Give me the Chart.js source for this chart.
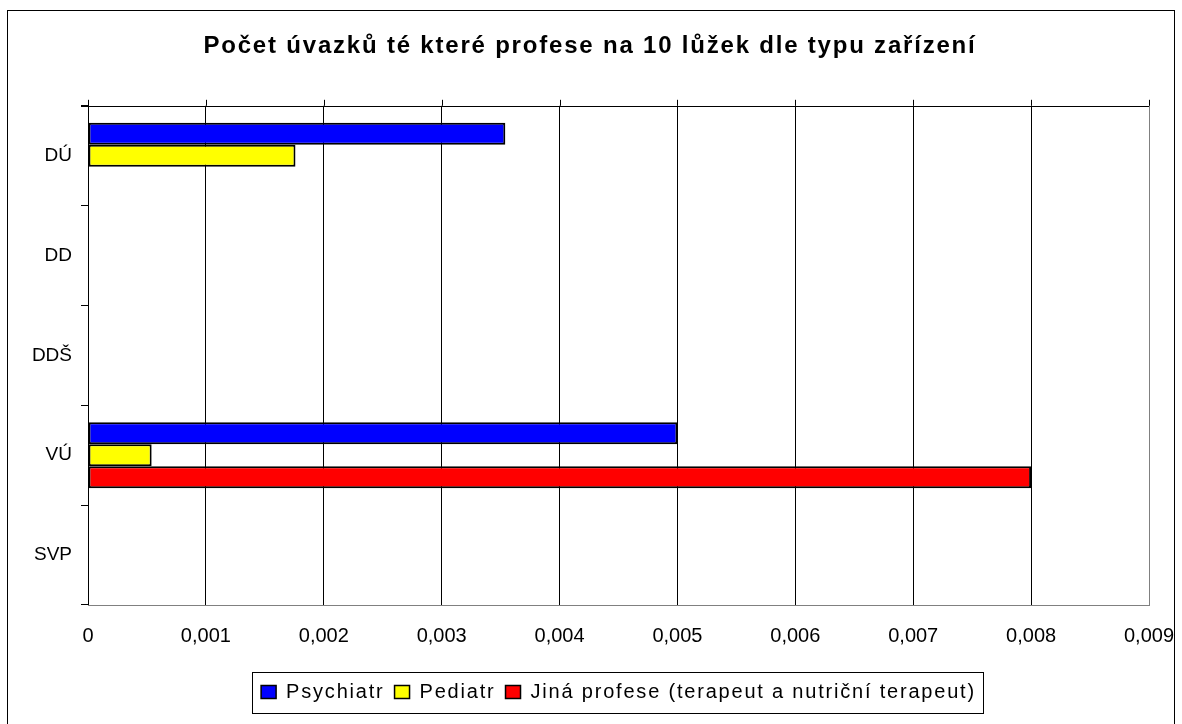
<!DOCTYPE html>
<html>
<head>
<meta charset="utf-8">
<script src="https://cdn.jsdelivr.net/npm/chart.js@4/dist/chart.umd.min.js"></script>
<style>
  html, body { margin: 0; padding: 0; background: #fff; }
  #wrap { position: relative; width: 1182px; height: 724px; }
</style>
</head>
<body>
<div id="wrap"><canvas id="chart" width="1182" height="724"></canvas></div>
<script>
// categories (top to bottom) and series values
const categories = ["DÚ", "DD", "DDŠ", "VÚ", "SVP"];
const psychiatr = [0.00354, null, null, 0.005, null];
const pediatr = [0.00176, null, null, 0.00054, null];
const jinaProfese = [null, null, null, 0.008, null];
const xTicks = [0, 0.001, 0.002, 0.003, 0.004, 0.005, 0.006, 0.007, 0.008, 0.009];

const FONT = "'Liberation Sans', Arial, sans-serif";
const WIDE = "1.8px";   // title + legend text spacing (Excel-like)
const NARROW = "0px";   // axis labels

const fmt = v => String(Number(v.toFixed(3))).replace(".", ",");

// frame, plot border, top tick marks, legend box, letter spacing switching
const decor = {
  id: "decor",
  beforeLayout(chart) {
    chart.ctx.letterSpacing = WIDE;
  },
  beforeDraw(chart) {
    const ctx = chart.ctx;
    ctx.save();
    ctx.fillStyle = "#fff";
    ctx.fillRect(0, 0, chart.width, chart.height);
    ctx.strokeStyle = "#000";
    ctx.lineWidth = 1;
    ctx.strokeRect(7.5, 10.5, 1167, chart.height);
    ctx.restore();
    ctx.letterSpacing = WIDE;
  },
  afterDatasetsDraw(chart) {
    chart.ctx.letterSpacing = NARROW;
  },
  afterDraw(chart) {
    const ctx = chart.ctx;
    const a = chart.chartArea;
    const xs = chart.scales.x;
    ctx.save();
    ctx.lineWidth = 1;
    ctx.strokeStyle = "#808080";
    ctx.strokeRect(Math.round(a.left) + 0.5, Math.round(a.top) + 0.5,
      Math.round(a.right - a.left), Math.round(a.bottom - a.top));
    ctx.strokeStyle = "#000";
    ctx.beginPath();
    xTicks.forEach(t => {
      const x = Math.round(xs.getPixelForValue(t)) + 0.5;
      ctx.moveTo(x, a.top - 6);
      ctx.lineTo(x, a.top);
    });
    ctx.moveTo(a.left - 7, Math.round(a.top) + 0.5);
    ctx.lineTo(a.right, Math.round(a.top) + 0.5);
    ctx.moveTo(Math.round(a.left) + 0.5, a.top);
    ctx.lineTo(Math.round(a.left) + 0.5, a.bottom);
    ctx.stroke();
    // legend box
    const hb = chart.legend.legendHitBoxes;
    if (hb && hb.length) {
      const l = Math.min(...hb.map(h => h.left)) - 9;
      const r = Math.max(...hb.map(h => h.left + h.width)) + 7;
      const t = Math.min(...hb.map(h => h.top)) - 10;
      const b = Math.max(...hb.map(h => h.top + h.height)) + 11;
      ctx.strokeStyle = "#000";
      ctx.strokeRect(Math.round(l) + 0.5, Math.round(t) + 0.5, Math.round(r - l), Math.round(b - t));
    }
    ctx.restore();
  }
};

new Chart(document.getElementById("chart"), {
  type: "bar",
  data: {
    labels: categories,
    datasets: [
      { label: "Psychiatr", data: psychiatr, backgroundColor: "#0000ff" },
      { label: "Pediatr", data: pediatr, backgroundColor: "#ffff00" },
      { label: "Jiná profese (terapeut a nutriční terapeut)", data: jinaProfese, backgroundColor: "#ff0000" }
    ]
  },
  options: {
    indexAxis: "y",
    responsive: false,
    animation: false,
    devicePixelRatio: 1,
    datasets: {
      bar: {
        borderColor: "#000",
        borderWidth: 2,
        borderSkipped: false,
        categoryPercentage: 0.66,
        barPercentage: 1.0
      }
    },
    layout: { padding: { left: 31, right: 33, top: 10, bottom: 12 } },
    plugins: {
      title: {
        display: true,
        text: "Počet úvazků té které profese na 10 lůžek dle typu zařízení",
        color: "#000",
        font: { family: FONT, size: 24, weight: "bold" },
        padding: { top: 22, bottom: 45 }
      },
      legend: {
        position: "bottom",
        fullSize: false,
        labels: {
          color: "#000",
          font: { family: FONT, size: 20 },
          boxWidth: 15,
          boxHeight: 13,
          padding: 10,
          generateLabels(chart) {
            return chart.data.datasets.map((ds, i) => ({
              text: ds.label,
              fillStyle: ds.backgroundColor,
              strokeStyle: "#000",
              lineWidth: 1.5,
              hidden: false,
              datasetIndex: i,
              fontColor: "#000"
            }));
          }
        }
      },
      tooltip: { enabled: false }
    },
    scales: {
      x: {
        min: 0,
        max: 0.009,
        afterBuildTicks(scale) { scale.ticks = xTicks.map(v => ({ value: v })); },
        afterFit(scale) {
          scale.height = 67;
          scale.paddingLeft = 0;
          scale.paddingRight = 0;
        },
        ticks: {
          z: 1,
          color: "#000",
          font: { family: FONT, size: 20 },
          padding: 19,
          callback: v => fmt(v)
        },
        grid: { color: "#000", lineWidth: 1, drawTicks: false },
        border: { color: "#808080" }
      },
      y: {
        afterFit(scale) { scale.width = 57; },
        ticks: { z: 1, color: "#000", font: { family: FONT, size: 19 }, padding: 9 },
        grid: { offset: true, drawOnChartArea: false, drawTicks: true, tickLength: 7, color: "#000" },
        border: { color: "#000" }
      }
    }
  },
  plugins: [decor]
});
</script>
</body>
</html>
